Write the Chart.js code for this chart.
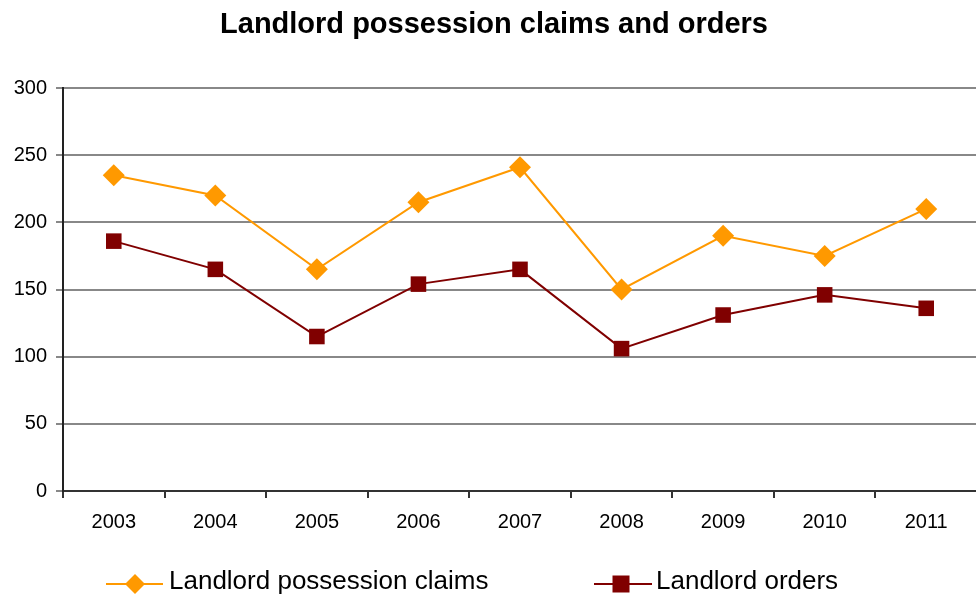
<!DOCTYPE html>
<html>
<head>
<meta charset="utf-8">
<script src="https://cdn.jsdelivr.net/npm/chart.js@4/dist/chart.umd.min.js"></script>
<style>
html,body{margin:0;padding:0;background:#fff;overflow:hidden;width:976px;height:595px;}
#wrap{position:absolute;left:0;top:0;width:988px;height:595px;}
</style>
</head>
<body>
<div id="wrap"><canvas id="c" width="988" height="595"></canvas></div>
<script>
const categories = ['2003','2004','2005','2006','2007','2008','2009','2010','2011'];
const claims = [235, 220, 165, 215, 241, 150, 190, 175, 210];
const orders = [186, 165, 115, 154, 165, 106, 131, 146, 136];
const seriesNames = ['Landlord possession claims', 'Landlord orders'];
const titleText = 'Landlord possession claims and orders';

const FONT = '"Liberation Sans", Arial, sans-serif';

const legendPlugin = {
  id: 'customLegend',
  afterDraw(chart) {
    const ctx = chart.ctx;
    const items = [
      {ds: chart.data.datasets[0], x0: 106, x1: 163, cx: 135, text: 169},
      {ds: chart.data.datasets[1], x0: 594, x1: 652, cx: 621, text: 656}
    ];
    const y = 584;
    ctx.save();
    items.forEach(it => {
      ctx.strokeStyle = it.ds.borderColor;
      ctx.lineWidth = 2;
      ctx.beginPath(); ctx.moveTo(it.x0, y); ctx.lineTo(it.x1, y); ctx.stroke();
      ctx.fillStyle = it.ds.backgroundColor;
      ctx.beginPath();
      if (it.ds.pointStyle === 'rectRot') {
        const r = 10;
        ctx.moveTo(it.cx, y - r); ctx.lineTo(it.cx + r, y); ctx.lineTo(it.cx, y + r); ctx.lineTo(it.cx - r, y); ctx.closePath();
      } else {
        ctx.rect(it.cx - 8.5, y - 8.5, 17, 17);
      }
      ctx.fill();
      ctx.fillStyle = '#000';
      ctx.font = '26px ' + FONT;
      ctx.textBaseline = 'middle';
      ctx.textAlign = 'left';
      ctx.fillText(it.ds.label, it.text, y - 2);
    });
    ctx.restore();
  }
};

new Chart(document.getElementById('c'), {
  type: 'line',
  data: {
    labels: categories,
    datasets: [
      {label: seriesNames[0], data: claims, borderColor: '#FF9900', backgroundColor: '#FF9900',
       borderWidth: 2, pointStyle: 'rectRot', pointRadius: 11, pointHoverRadius: 11, pointBorderWidth: 0, tension: 0},
      {label: seriesNames[1], data: orders, borderColor: '#800000', backgroundColor: '#800000',
       borderWidth: 2, pointStyle: 'rect', pointRadius: 11, pointHoverRadius: 11, pointBorderWidth: 0, tension: 0}
    ]
  },
  options: {
    responsive: false,
    animation: false,
    events: [],
    layout: {padding: {left: 0, right: 0, top: 0, bottom: 49}},
    plugins: {
      legend: {display: false},
      tooltip: {enabled: false},
      title: {display: true, text: titleText, color: '#000',
        font: {family: FONT, size: 29, weight: 'bold'}, padding: {top: 8, bottom: 45.2}}
    },
    scales: {
      x: {
        offset: true,
        grid: {offset: true, display: true, drawOnChartArea: false, color: '#333', lineWidth: 2, tickLength: 7},
        border: {display: true, color: '#333', width: 2},
        ticks: {color: '#000', font: {family: FONT, size: 20}, padding: 12, maxRotation: 0}
      },
      y: {
        min: 0, max: 300,
        afterFit(s) { s.width = 63; },
        grid: {color: '#888', lineWidth: 2, tickLength: 7},
        border: {display: true, color: '#222', width: 2},
        ticks: {stepSize: 50, color: '#000', font: {family: FONT, size: 20}, padding: 9}
      }
    }
  },
  plugins: [legendPlugin]
});
</script>
</body>
</html>
